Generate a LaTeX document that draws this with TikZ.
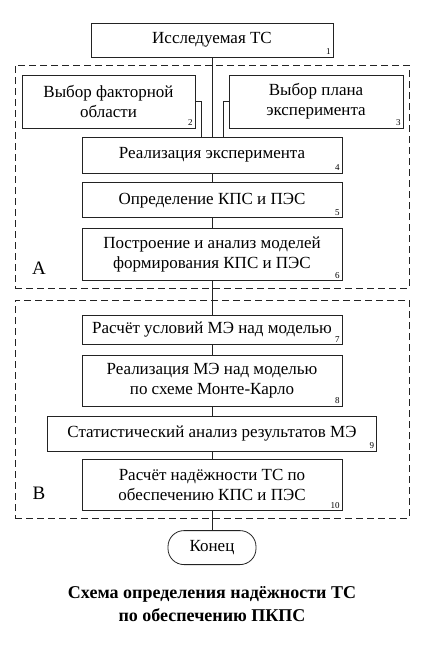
\documentclass[tikz,border=0pt]{standalone}
\usepackage{fontspec}
\setmainfont{Liberation Serif}
\usetikzlibrary{
  positioning,
  calc
}
\definecolor{linecolor}{RGB}{35, 35, 35}
\definecolor{labelcolor}{RGB}{0, 0, 0}
\tikzset{
blocktext/.style={
  align=center,
  font=\fontsize{17}{20}\selectfont,
  text=labelcolor
},
block/.style={
  draw=linecolor,
  line width=0.8pt,
  minimum width=260pt,
  inner sep=2pt,
  blocktext
},
numlabel/.style={
  font=\fontsize{9}{10}\selectfont,
  text=labelcolor,
  inner sep=2.5pt
},
num/.style={
  label={[numlabel, anchor=south east]south east:#1}
},
endblock/.style={
  draw=linecolor,
  line width=0.8pt,
  rounded corners=16pt,
  minimum width=88pt,
  minimum height=34pt,
  blocktext
},
groupbox/.style={
  draw=linecolor,
  line width=0.8pt,
  dash pattern=on 7pt off 4pt
},
grouplabel/.style={
  font=\fontsize{19}{21}\selectfont,
  text=labelcolor
},
titlelabel/.style={
  font=\bfseries\fontsize{18}{23}\selectfont,
  text=labelcolor,
  align=center
},
link/.style={
  draw=linecolor,
  line width=0.8pt
}
}
\begin{document}
\begin{tikzpicture}[x=1pt, y=-1pt]
      \useasboundingbox (0,0) rectangle (424,645);

      % dashed groups
      \node[groupbox, minimum width=394pt, minimum height=223pt, inner sep=0pt] (grpA) at (212,176.5) {};
      \node[groupbox, minimum width=394pt, minimum height=218pt, inner sep=0pt] (grpB) at (212,409) {};
      \node[grouplabel] (labA) at (39,268) {A};
      \node[grouplabel] (labB) at (39,493) {B};

      \node[block, minimum width=242pt, minimum height=34pt, num=1] (b1) at (212,40) {Исследуемая ТС};
      \node[block, minimum width=173pt, minimum height=53pt, num=2] (b2) at (108.5,101.5) {Выбор факторной\\области};
      \node[block, minimum width=174pt, minimum height=53pt, num=3] (b3) at (316,101.5) {Выбор плана\\эксперимента};
      \node[block, minimum height=36pt, num=4] (b4) at (212,155) {Реализация эксперимента};
      \node[block, minimum height=35pt, num=5, below=9pt of b4] (b5) {Определение КПС и ПЭС};
      \node[block, minimum height=52pt, num=6, below=10pt of b5] (b6) {Построение и анализ моделей\\формирования КПС и ПЭС};
      \node[block, minimum height=29pt, num=7, below=34pt of b6] (b7) {Расчёт условий МЭ над моделью};
      \node[block, minimum height=51pt, num=8, below=10pt of b7] (b8) {Реализация МЭ над моделью\\по схеме Монте-Карло};
      \node[block, minimum width=329pt, minimum height=35pt, num=9, below=9pt of b8] (b9) {Статистический анализ результатов МЭ};
      \node[block, minimum height=51pt, num=10, below=8pt of b9] (b10) {Расчёт надёжности ТС по\\обеспечению КПС и ПЭС};
      \node[endblock, below=19pt of b10] (end) {Конец};

      \node[titlelabel] (title) at (212,604) {Схема определения надёжности ТС\\по обеспечению ПКПС};

      \draw[link] (b1) -- (b4);
      \draw[link] (b2.east) -| ([xshift=-11pt]b4.north);
      \draw[link] (b3.west) -| ([xshift=11pt]b4.north);
      \draw[link] (b4) -- (b5);
      \draw[link] (b5) -- (b6);
      \draw[link] (b6) -- (b7);
      \draw[link] (b7) -- (b8);
      \draw[link] (b8) -- (b9);
      \draw[link] (b9) -- (b10);
      \draw[link] (b10) -- (end);
    \end{tikzpicture}
\end{document}
